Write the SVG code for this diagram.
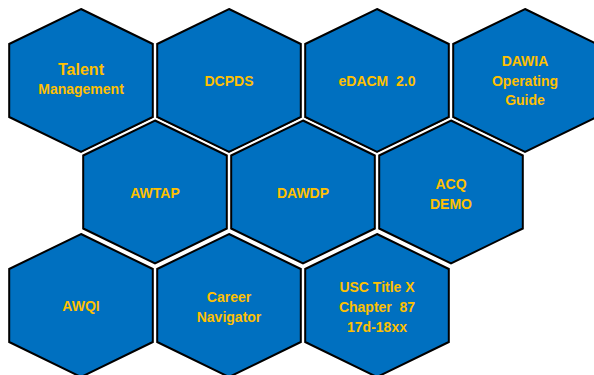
<svg xmlns="http://www.w3.org/2000/svg" xmlns:xlink="http://www.w3.org/1999/xlink" width="594" height="375" viewBox="0 0 594 375">
  <style>
    .halo { fill: none; stroke: #FFFFFF; stroke-width: 5.5; stroke-linejoin: miter; }
    .hex { fill: #0070C0; stroke: #000000; stroke-width: 2; stroke-linejoin: miter; }
    .lbl { font-family: "Liberation Sans", Arial, sans-serif; font-weight: bold; font-size: 14px; fill: #FFC000; text-anchor: middle; }
    .big { font-size: 16px; }
  </style>
  <defs>
    <polygon id="hexshape" points="0,-71.5 71.8,-36.5 71.8,36.5 0,71.5 -71.8,36.5 -71.8,-36.5"/>
  </defs>
  <rect x="0" y="0" width="594" height="375" fill="#FFFFFF"/>

  <!-- Row 1 -->
  <g id="talent-management" transform="translate(81,80.5)">
    <use xlink:href="#hexshape" href="#hexshape" class="halo"/>
    <use xlink:href="#hexshape" href="#hexshape" class="hex"/>
    <text class="lbl big" x="0" y="-5.5">Talent</text>
    <text class="lbl" x="0" y="13.5">Management</text>
  </g>
  <g id="dcpds" transform="translate(229,80.5)">
    <use xlink:href="#hexshape" href="#hexshape" class="halo"/>
    <use xlink:href="#hexshape" href="#hexshape" class="hex"/>
    <text class="lbl" x="0" y="5.5">DCPDS</text>
  </g>
  <g id="edacm" transform="translate(377,80.5)">
    <use xlink:href="#hexshape" href="#hexshape" class="halo"/>
    <use xlink:href="#hexshape" href="#hexshape" class="hex"/>
    <text class="lbl" x="0" y="5.5" xml:space="preserve">eDACM  2.0</text>
  </g>
  <g id="dawia-guide" transform="translate(525,80.5)">
    <use xlink:href="#hexshape" href="#hexshape" class="halo"/>
    <use xlink:href="#hexshape" href="#hexshape" class="hex"/>
    <text class="lbl" x="0" y="-14.5">DAWIA</text>
    <text class="lbl" x="0" y="5.5">Operating</text>
    <text class="lbl" x="0" y="24.5">Guide</text>
  </g>

  <!-- Row 2 -->
  <g id="awtap" transform="translate(155,192)">
    <use xlink:href="#hexshape" href="#hexshape" class="halo"/>
    <use xlink:href="#hexshape" href="#hexshape" class="hex"/>
    <text class="lbl" x="0" y="6">AWTAP</text>
  </g>
  <g id="dawdp" transform="translate(303,192)">
    <use xlink:href="#hexshape" href="#hexshape" class="halo"/>
    <use xlink:href="#hexshape" href="#hexshape" class="hex"/>
    <text class="lbl" x="0" y="6">DAWDP</text>
  </g>
  <g id="acq-demo" transform="translate(451,192)">
    <use xlink:href="#hexshape" href="#hexshape" class="halo"/>
    <use xlink:href="#hexshape" href="#hexshape" class="hex"/>
    <text class="lbl" x="0" y="-3">ACQ</text>
    <text class="lbl" x="0" y="16.5">DEMO</text>
  </g>

  <!-- Row 3 -->
  <g id="awqi" transform="translate(81,305.5)">
    <use xlink:href="#hexshape" href="#hexshape" class="halo"/>
    <use xlink:href="#hexshape" href="#hexshape" class="hex"/>
    <text class="lbl" x="0" y="5">AWQI</text>
  </g>
  <g id="career-navigator" transform="translate(229,305.5)">
    <use xlink:href="#hexshape" href="#hexshape" class="halo"/>
    <use xlink:href="#hexshape" href="#hexshape" class="hex"/>
    <text class="lbl" x="0" y="-3.5">Career</text>
    <text class="lbl" x="0" y="16.5">Navigator</text>
  </g>
  <g id="usc-title-x" transform="translate(377,305.5)">
    <use xlink:href="#hexshape" href="#hexshape" class="halo"/>
    <use xlink:href="#hexshape" href="#hexshape" class="hex"/>
    <text class="lbl" x="0" y="-13.5">USC Title X</text>
    <text class="lbl" x="0" y="6.5" xml:space="preserve">Chapter  87</text>
    <text class="lbl" x="0" y="26.5">17d-18xx</text>
  </g>

  <g id="connectors"></g>
</svg>
